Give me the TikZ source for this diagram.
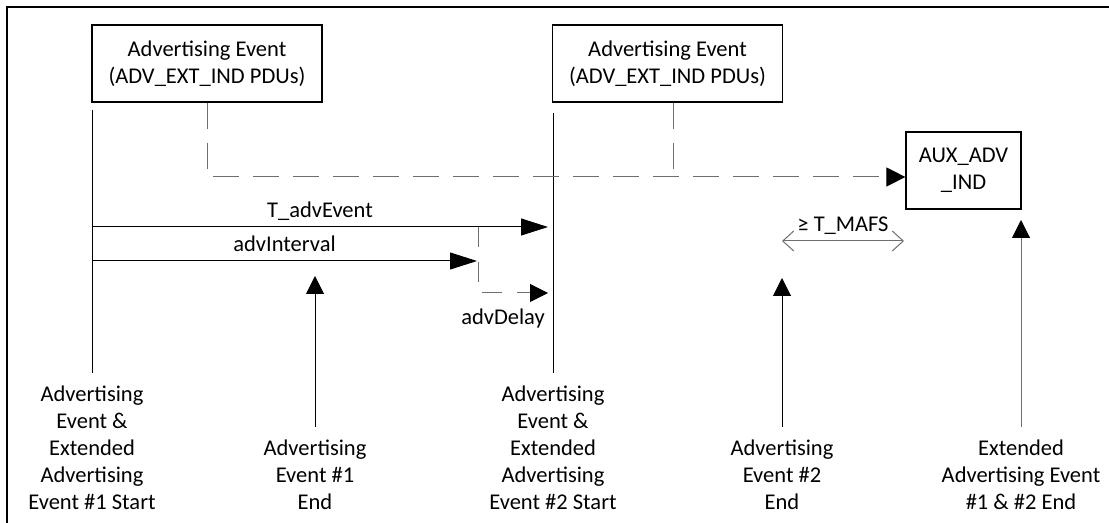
\documentclass[tikz,border=0pt]{standalone}
\usepackage{fontspec}
\setmainfont{Carlito}
\usepackage{tikz}
\usetikzlibrary{arrows.meta,positioning,calc}
\definecolor{LineGray}{HTML}{6E6E6E}

\begin{document}
\begin{tikzpicture}[x=0.5pt, y=-0.5pt, font=\fontsize{11.25}{13.5}\selectfont, line width=0.5pt]
\tikzset{evbox/.style={draw, line width=0.6pt, align=center, minimum width=115pt, minimum height=38.5pt, inner sep=2pt}, evlabel/.style={align=center, inner sep=0pt}, durarrow/.style={-{Triangle[length=13.5pt,width=8.5pt]}}, uparrow/.style={-{Triangle[length=9pt,width=9pt,color=black]}}, dsh/.style={LineGray, dash pattern=on 13pt off 7pt}, dlyarrow/.style={LineGray, dash pattern=on 10pt off 7.5pt, -{Triangle[length=9pt,width=9pt,color=black]}}, mafs/.style={LineGray, {Straight Barb[length=5.5pt,width=10pt]}-{Straight Barb[length=5.5pt,width=10pt]}}, lbl/.style={midway, anchor=base, yshift=4.5pt, black}}
\useasboundingbox (0,0) rectangle (1109,523);
\draw[line width=1pt] (7,523) -- (7,7) -- (1109,7);
% event boxes
\node[evbox] (adv1) at (207,63.5) {Advertising Event\\(ADV\_EXT\_IND PDUs)};
\node[evbox] (adv2) at (667.5,63.5) {Advertising Event\\(ADV\_EXT\_IND PDUs)};
\node[evbox, minimum width=57.5pt] (aux) at (963.5,170.5) {AUX\_ADV\\\_IND};
% time marks
\coordinate (st1) at (92,110); \coordinate (st1e) at (92,373);
\coordinate (st2) at (553,113); \coordinate (st2e) at (553,373);
\coordinate (end1) at (315,427); \coordinate (end1t) at (315,276);
\coordinate (end2) at (782,427); \coordinate (end2t) at (782,278);
\coordinate (xend) at (1021,427); \coordinate (xendt) at (1021,220);
\draw (st1) -- (st1e);
\draw (st2) -- (st2e);
\foreach \a/\b in {end1/end1t,end2/end2t} \draw[uparrow] (\a) -- (\b);
\draw[uparrow, LineGray] (xend) -- (xendt);
% PDU links
\coordinate (j1) at (207,177); \coordinate (j2) at (673,177);
\draw[dsh, -{Triangle[length=9.5pt,width=9.5pt,color=black]}] (adv1.south) |- (aux.west |- j1);
\draw[dsh] (adv2.south -| j2) -- (j2);
% intervals
\coordinate (tev) at (92,227); \coordinate (teve) at (548,227);
\coordinate (ivl) at (92,261); \coordinate (ivle) at (477,261);
\coordinate (dly) at (478,227); \coordinate (dlyc) at (478,293); \coordinate (dlye) at (548,293);
\coordinate (mfa) at (782,241); \coordinate (mfb) at (904,241);
\draw[durarrow] (tev) -- (teve) node[lbl] (tevlbl) {T\_advEvent};
\draw[durarrow] (ivl) -- (ivle) node[lbl] (ivllbl) {advInterval};
\draw[dlyarrow] (dly) -- (dlyc) -- (dlye);
\node[anchor=base] (dlylbl) at (503,325) {advDelay};
\draw[mafs] (mfa) -- (mfb) node[lbl] (mafslbl) {≥ T\_MAFS};
% bottom labels
\node[evlabel, below=6.25pt of st1e] (lbl1) {Advertising\\Event \&\\Extended\\Advertising\\Event \#1 Start};
\node[evlabel, below=6.25pt of end1] (lbl2) {Advertising\\Event \#1\\End};
\node[evlabel, below=6.25pt of st2e] (lbl3) {Advertising\\Event \&\\Extended\\Advertising\\Event \#2 Start};
\node[evlabel, below=6.25pt of end2] (lbl4) {Advertising\\Event \#2\\End};
\node[evlabel, below=6.25pt of xend] (lbl5) {Extended\\Advertising Event\\\#1 \& \#2 End};
\end{tikzpicture}
\end{document}
